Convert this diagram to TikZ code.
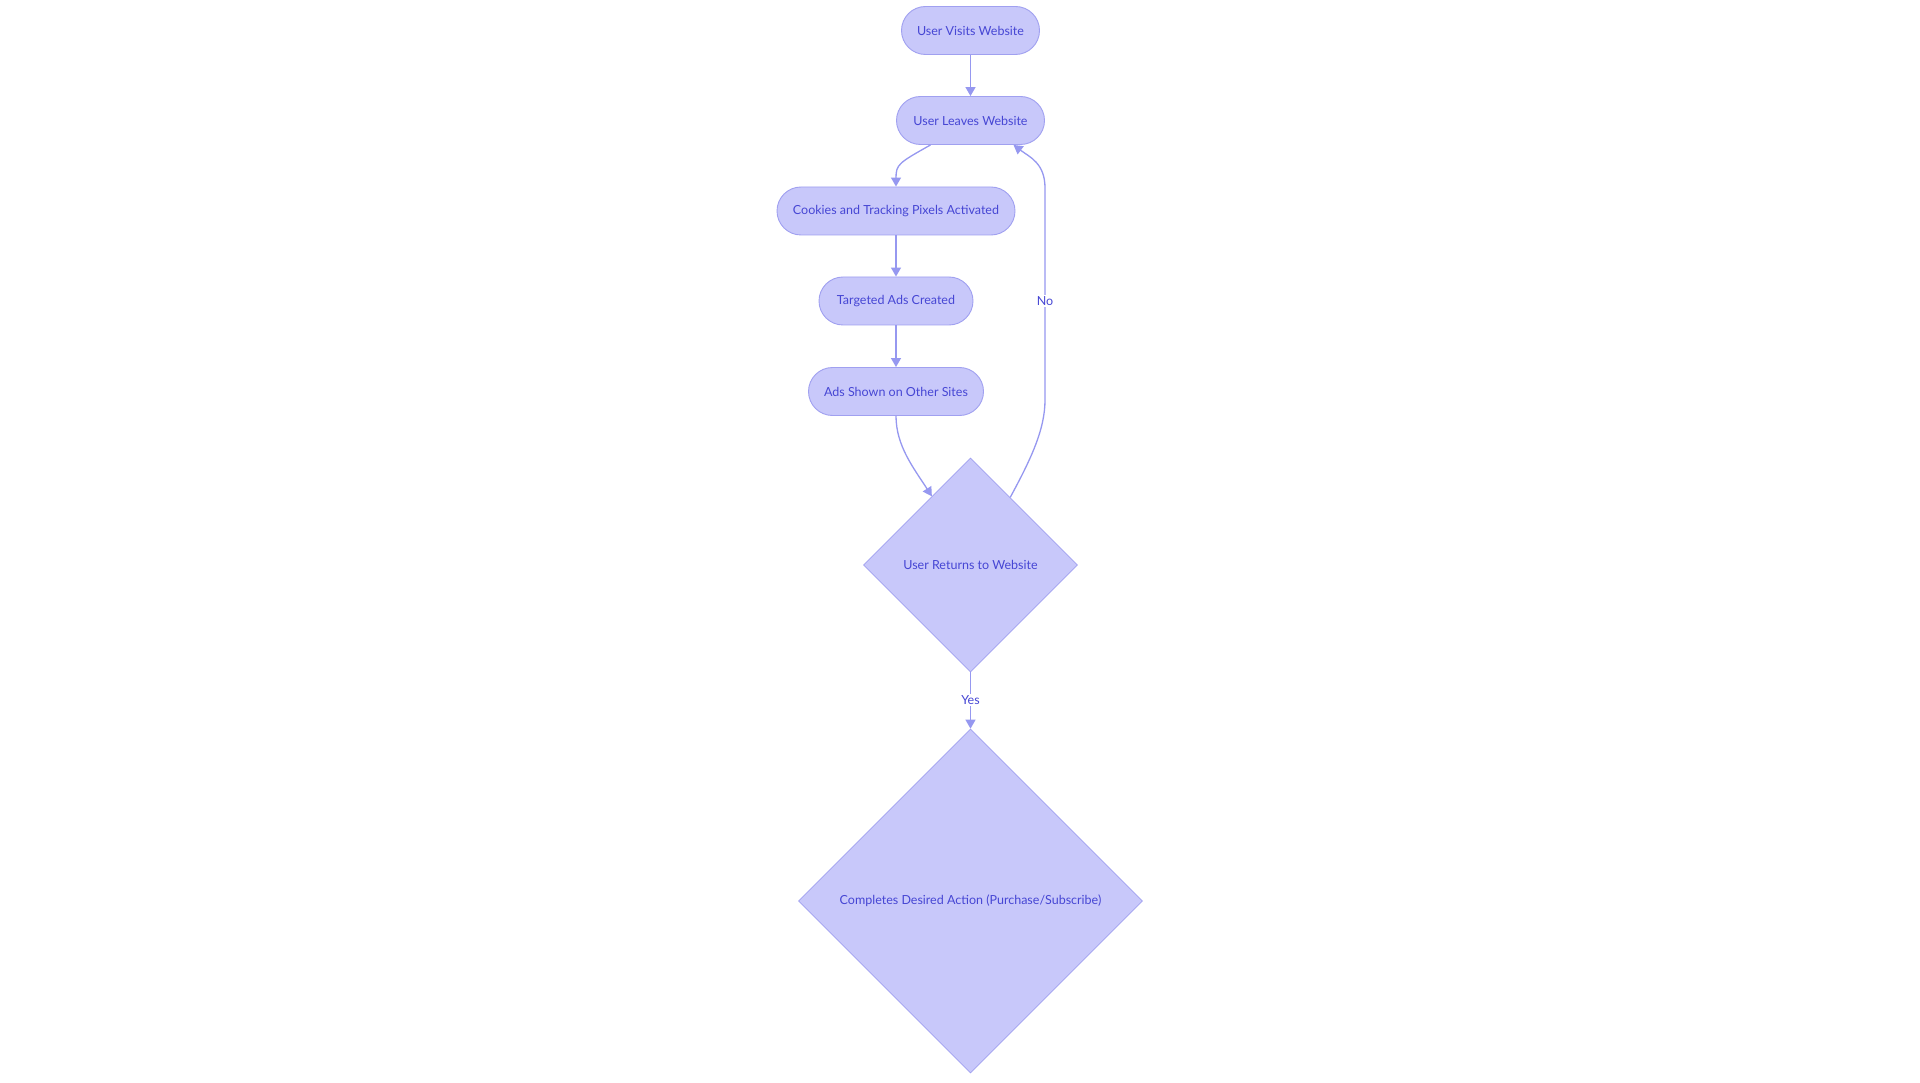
\documentclass[tikz,border=0pt]{standalone}
\usepackage{fontspec}
\setmainfont{Lato}
\usetikzlibrary{shapes.geometric,arrows.meta,calc}
\definecolor{nodefill}{RGB}{200,200,250}
\definecolor{nodeline}{RGB}{160,160,240}
\definecolor{edgecol}{RGB}{150,152,240}
\definecolor{txtcol}{RGB}{70,70,212}
\begin{document}
\begin{tikzpicture}[x=1pt,y=-1pt,
  every node/.style={font=\fontsize{12.5}{14}\selectfont, text=txtcol},
  pill/.style={draw=nodeline, line width=0.9pt, fill=nodefill, rounded corners=24pt, minimum height=48pt, inner sep=0pt},
  dec/.style={diamond, aspect=1, draw=nodeline, line width=0.7pt, fill=nodefill, inner sep=0pt},
  flow/.style={draw=edgecol, line width=1.3pt, -{Triangle[length=9pt,width=10pt]}},
  elabel/.style={fill=white, inner sep=1.5pt}]
\useasboundingbox (0,0) rectangle (1920,1083);
\fill[white] (0,0) rectangle (1920,1083);

\node[pill, minimum width=138pt] (v) at (970.5,30.5) {User Visits Website};
\node[pill, minimum width=148pt] (l) at (970.5,120.5) {User Leaves Website};
\node[pill, minimum width=238pt] (c) at (896,211) {Cookies and Tracking Pixels Activated};
\node[pill, minimum width=154pt] (t) at (896,301) {Targeted Ads Created};
\node[pill, minimum width=175pt] (a) at (896,391.5) {Ads Shown on Other Sites};
\node[dec, minimum width=214pt, minimum height=214pt] (d1) at (970.5,565) {User Returns to Website};
\node[dec, minimum width=344pt, minimum height=344pt] (d2) at (970.5,901) {Completes Desired Action (Purchase/Subscribe)};

\coordinate (n1) at (1045,400);
\coordinate (n2) at (1045,188);

\draw[flow] (v.south) -- (l.north);
\draw[flow] ([xshift=-40pt]l.south) .. controls +(-32,18) and +(0,-22) .. (c.north);
\draw[flow] (c.south) -- (t.north);
\draw[flow] (t.south) -- (a.north);
\draw[flow] (a.south) .. controls +(0,30) and +(-18,-28) .. ($(d1.north)!0.36!(d1.west)$);
\draw[flow] ($(d1.north)!0.37!(d1.east)$) .. controls +(20,-37) and +(0,30) .. (n1) -- (n2)
   .. controls +(0,-25) and +(16,12) .. ([xshift=43pt]l.south);
\node[elabel] at (1045,301) {No};
\draw[flow] (d1.south) -- (d2.north);
\node[elabel] at (970.5,700) {Yes};
\end{tikzpicture}
\end{document}
